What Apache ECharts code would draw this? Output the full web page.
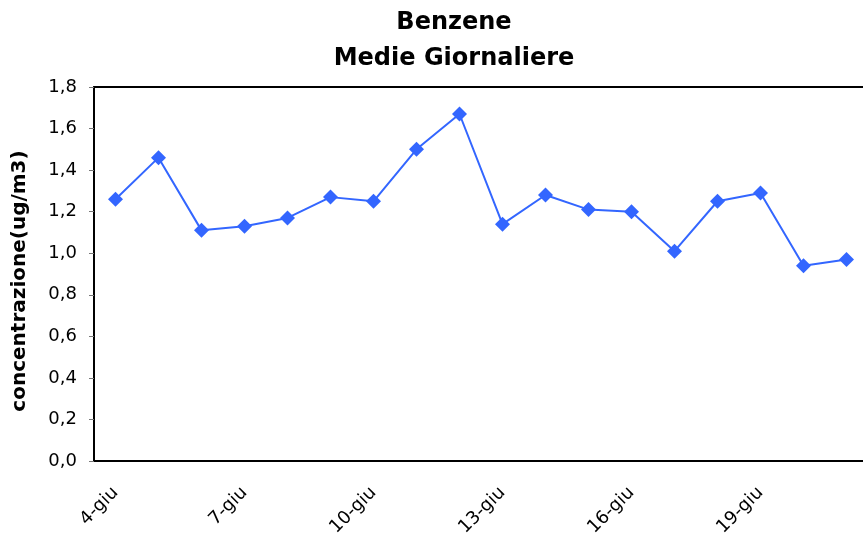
<!DOCTYPE html>
<html>
<head>
<meta charset="utf-8">
<script src="https://cdn.jsdelivr.net/npm/echarts@6/dist/echarts.min.js"></script>
<style>
body {
	margin: 0;
	background-color: #fff;
}
#main {
	width: 863px;
	height: 543px;
}
</style>
</head>
<body>
<div id="main"></div>
<script>

// daily means, 4 to 21 June
var days = ['4-giu', '5-giu', '6-giu', '7-giu', '8-giu', '9-giu', '10-giu', '11-giu', '12-giu',
            '13-giu', '14-giu', '15-giu', '16-giu', '17-giu', '18-giu', '19-giu', '20-giu', '21-giu'];
var benzene = [1.26, 1.46, 1.11, 1.13, 1.17, 1.27, 1.25, 1.50, 1.67,
               1.14, 1.28, 1.21, 1.20, 1.01, 1.25, 1.29, 0.94, 0.97];

var chart = echarts.init(document.getElementById('main'));

var option = {
    animation: false,
    title: {
        text: 'Benzene\nMedie Giornaliere',
        left: 449,
        top: 0,
        textAlign: 'center',
        textStyle: {
            fontFamily: 'DejaVu Sans',
            fontWeight: 'bold',
            fontSize: 24,
            lineHeight: 36,
            color: '#000'
        }
    },
    grid: {
        left: 94,
        top: 87,
        width: 774,
        bottom: 82,
        outerBoundsMode: 'none'
    },
    xAxis: [
        {
            type: 'category',
            data: days,
            boundaryGap: true,
            axisLine: { lineStyle: { color: '#000', width: 2 } },
            axisTick: { interval: 2, length: 5, lineStyle: { color: '#777' } },
            axisLabel: {
                interval: 2,
                rotate: 45,
                margin: 29,
                fontFamily: 'DejaVu Sans',
                fontSize: 18,
                color: '#000'
            }
        },
        {
            // top frame line only
            type: 'category',
            data: days,
            position: 'top',
            axisLine: { lineStyle: { color: '#000', width: 2 } },
            axisTick: { show: false },
            axisLabel: { show: false }
        }
    ],
    yAxis: {
        type: 'value',
        min: 0,
        max: 1.8,
        interval: 0.2,
        name: 'concentrazione(ug/m3)',
        nameLocation: 'middle',
        nameGap: 64,
        nameTextStyle: {
            fontFamily: 'DejaVu Sans',
            fontWeight: 'bold',
            fontSize: 20,
            padding: [0, 14, 0, 0],
            color: '#000'
        },
        splitLine: { show: false },
        axisLine: { show: true, lineStyle: { color: '#000', width: 2 } },
        axisTick: { show: true, length: 5, lineStyle: { color: '#777' } },
        axisLabel: {
            margin: 17,
            fontFamily: 'DejaVu Sans',
            fontSize: 18,
            color: '#000',
            formatter: function (v) {
                return v.toFixed(1).replace('.', ',');
            }
        }
    },
    series: [
        {
            name: 'Benzene',
            type: 'line',
            data: benzene,
            symbol: 'diamond',
            symbolSize: 15,
            itemStyle: { color: '#3366ff' },
            lineStyle: { color: '#3366ff', width: 2 }
        }
    ]
};

chart.setOption(option);

</script>
</body>
</html>
